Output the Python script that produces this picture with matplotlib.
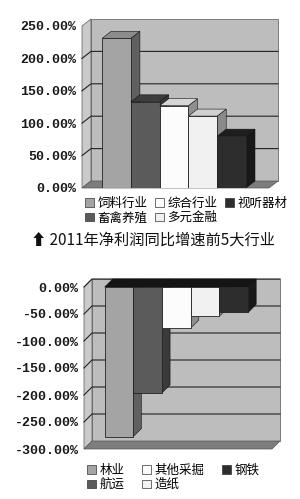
import matplotlib
matplotlib.use('Agg')
import matplotlib.pyplot as plt
from matplotlib.patches import Polygon, Patch

plt.rcParams['font.family'] = ['Noto Sans CJK SC', 'DejaVu Sans']

# top chart: 2011 net profit growth, top 5 industries
top_names = ['饲料行业', '畜禽养殖', '综合行业', '多元金融', '视听器材']
top_values = [231, 133, 127, 111, 80]
top_ticks = [0, 50, 100, 150, 200, 250]

# bottom chart: bottom 5 industries
bot_names = ['林业', '航运', '其他采掘', '造纸', '钢铁']
bot_values = [-277, -196, -76, -54, -47]
bot_ticks = [-300, -250, -200, -150, -100, -50, 0]

title = '⬆ 2011年净利润同比增速前5大行业'

# front, top, side colours for each bar
face_cols = ['#a4a4a4', '#5b5b5b', '#fcfcfc', '#f1f1f1', '#2d2d2d']
top_cols = ['#8c8c8c', '#3e3e3e', '#d6d6d6', '#d0d0d0', '#1e1e1e']
side_cols = ['#606060', '#3a3a3a', '#8e8e8e', '#8a8a8a', '#181818']

W, H = 300, 499
fig = plt.figure(figsize=(W / 100, H / 100), dpi=100)


def draw3d(box, values, ticks, xlim, off, neg=False):
    x0, y0, x1, y1 = box  # pixel box of the front plane (y from top)
    ax = fig.add_axes([x0 / W, 1 - y1 / H, (x1 - x0) / W, (y1 - y0) / H])
    ylim = (ticks[0], ticks[-1])
    ax.set_xlim(xlim)
    ax.set_ylim(ylim)
    dx = off[0] / (x1 - x0) * (xlim[1] - xlim[0])
    dy = off[1] / (y1 - y0) * (ylim[1] - ylim[0])
    xa, xb = xlim
    ya, yb = ylim
    kw = dict(clip_on=False, linewidth=0.5, edgecolor='#555555')
    # back wall, left wall, floor
    ax.add_patch(Polygon([(xa + dx, ya + dy), (xb + dx, ya + dy), (xb + dx, yb + dy), (xa + dx, yb + dy)],
                         facecolor='#bdbdbd', zorder=0, **kw))
    ax.add_patch(Polygon([(xa, ya), (xa + dx, ya + dy), (xa + dx, yb + dy), (xa, yb)],
                         facecolor='#cacaca', zorder=0, **kw))
    ax.add_patch(Polygon([(xa, ya), (xb, ya), (xb + dx, ya + dy), (xa + dx, ya + dy)],
                         facecolor='#7d7d7d', zorder=1, **kw))
    for t in ticks[1:-1] if not neg else ticks[1:]:
        ax.plot([xa, xa + dx, xb + dx], [t, t + dy, t + dy], color='#222222', lw=0.8,
                clip_on=False, zorder=1)
    # bars, left to right so the next front face covers the previous side
    for i, v in enumerate(values):
        z = 2 + i
        lo, hi = (v, 0) if neg else (0, v)
        ax.add_patch(Polygon([(i + 0.5, lo), (i + 0.5, hi), (i + 0.5 + dx, hi + dy), (i + 0.5 + dx, lo + dy)],
                             facecolor=side_cols[i], zorder=z, clip_on=False, linewidth=0.4, edgecolor='#111111'))
        tc = '#151515' if neg else top_cols[i]
        ax.add_patch(Polygon([(i - 0.5, hi), (i + 0.5, hi), (i + 0.5 + dx, hi + dy), (i - 0.5 + dx, hi + dy)],
                             facecolor=tc, zorder=z, clip_on=False, linewidth=0.4, edgecolor='#111111'))
        ax.bar(i, v, width=1, color=face_cols[i], edgecolor='#222222', linewidth=0.6, zorder=z + 0.5)
    ax.set_yticks(ticks)
    ax.set_yticklabels(['%.2f%%' % t for t in ticks], family='Liberation Mono',
                       fontsize=9.5, fontweight='bold', color='#1a1a1a')
    ax.tick_params(axis='y', length=0, pad=4)
    ax.set_xticks([])
    for s in ax.spines.values():
        s.set_visible(False)
    ax.patch.set_visible(False)
    return ax


draw3d((82, 26, 269, 188), top_values, top_ticks, (-1.2, 5.3), (9, 7))
draw3d((84, 287, 272, 449), bot_values, bot_ticks, (-1.22, 5.33), (8, 8), neg=True)

top_h = [Patch(facecolor=c, edgecolor='#333333', linewidth=0.5) for c in face_cols]
fig.legend(top_h, top_names, ncol=3, loc='upper left', bbox_to_anchor=(85 / W, 1 - 197 / H),
           frameon=False, fontsize=9, handlelength=0.7, handleheight=0.7, handletextpad=0.3,
           columnspacing=0.6, labelspacing=0.1, borderpad=0, borderaxespad=0)
fig.text(153 / W, 1 - 240 / H, title, ha='center', va='center', fontsize=11, color='#111111')

fig.legend(top_h, bot_names, ncol=3, loc='upper left', bbox_to_anchor=(87 / W, 1 - 464 / H),
           frameon=False, fontsize=9, handlelength=0.7, handleheight=0.7, handletextpad=0.3,
           columnspacing=1.4, labelspacing=0.1, borderpad=0, borderaxespad=0)

fig.savefig('out.png', dpi=100, facecolor='white')
